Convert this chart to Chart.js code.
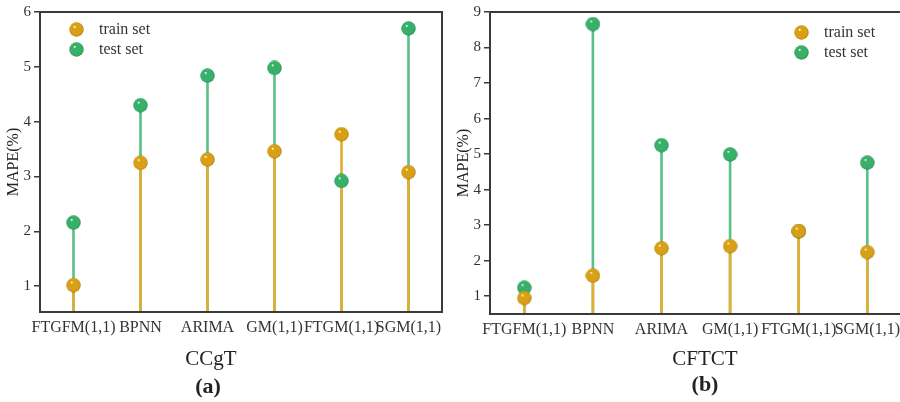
<!DOCTYPE html>
<html>
<head>
<meta charset="utf-8">
<script src="https://cdn.jsdelivr.net/npm/chart.js@4.4.1/dist/chart.umd.min.js"></script>
<style>
  html, body { margin: 0; padding: 0; background: #fff; overflow: hidden; }
  body { width: 900px; height: 402px; position: relative; font-family: "Liberation Serif", serif; color: #333; }
  .panel { position: absolute; top: 0; height: 402px; }
  .lbl { position: absolute; transform: translate(-50%, -50%); white-space: nowrap; color: #222; }
  .legend { position: absolute; font-size: 16px; line-height: 20px; color: #333; }
  .legend div { position: relative; padding-left: 30px; height: 20px; }
  .legend canvas { position: absolute; left: 0; top: 3px; }
</style>
</head>
<body>
<div class="panel" style="left:0;width:450px"><canvas id="chartA" width="450" height="402"></canvas></div>
<div class="panel" style="left:450px;width:460px"><canvas id="chartB" width="460" height="402"></canvas></div>

<div class="legend" style="left:69px;top:19px">
  <div><canvas class="ballTrain" width="15" height="15"></canvas>train set</div>
  <div><canvas class="ballTest" width="15" height="15"></canvas>test set</div>
</div>
<div class="legend" style="left:794px;top:22px">
  <div><canvas class="ballTrain" width="15" height="15"></canvas>train set</div>
  <div><canvas class="ballTest" width="15" height="15"></canvas>test set</div>
</div>

<div class="lbl" style="left:211px;top:358px;font-size:21px">CCgT</div>
<div class="lbl" style="left:208px;top:386px;font-size:22px;font-weight:bold">(a)</div>
<div class="lbl" style="left:705px;top:358px;font-size:21px">CFTCT</div>
<div class="lbl" style="left:705px;top:384px;font-size:22px;font-weight:bold">(b)</div>

<script>
// models on the x axis (same for both panels)
const models = ["FTGFM(1,1)", "BPNN", "ARIMA", "GM(1,1)", "FTGM(1,1)", "SGM(1,1)"];

// (a) CCgT - MAPE in %
const trainA = [1.02, 3.25, 3.31, 3.46, 3.77, 3.08];
const testA = [2.16, 4.30, 4.84, 4.98, 2.92, 5.70];

// (b) CFTCT - MAPE in %
// FTGM(1,1) test point sits behind the train point
const trainB = [0.95, 1.58, 2.35, 2.41, 2.83, 2.24];
const testB = [1.24, 8.66, 5.25, 4.99, 2.83, 4.76];

const yTicksA = [1, 2, 3, 4, 5, 6];
const yTicksB = [1, 2, 3, 4, 5, 6, 7, 8, 9];

const trainColor = "#d9a016";
const trainStem = "#e2ad33";
const testColor = "#38b06a";
const testStem = "#5cc08b";

// little shaded ball for the markers
function makeBall(base, dark, size) {
  const c = document.createElement("canvas");
  c.width = size; c.height = size;
  paintBall(c, base, dark);
  return c;
}
function paintBall(c, base, dark) {
  const ctx = c.getContext("2d");
  const r = c.width / 2;
  const g = ctx.createRadialGradient(r - 2, r - 3, 0.3, r, r, r);
  g.addColorStop(0, "#ffffff");
  g.addColorStop(0.18, base);
  g.addColorStop(0.8, base);
  g.addColorStop(1, dark);
  ctx.fillStyle = g;
  ctx.beginPath();
  ctx.arc(r, r, r - 0.3, 0, Math.PI * 2);
  ctx.fill();
}
const trainBall = makeBall(trainColor, "#a87a08", 15);
const testBall = makeBall(testColor, "#1f8a4b", 15);
document.querySelectorAll(".ballTrain").forEach(c => paintBall(c, trainColor, "#a87a08"));
document.querySelectorAll(".ballTest").forEach(c => paintBall(c, testColor, "#1f8a4b"));

// box around the plot area
const frame = {
  id: "frame",
  afterDraw(chart) {
    const a = chart.chartArea;
    const ctx = chart.ctx;
    ctx.save();
    ctx.strokeStyle = "#3a3a3a";
    ctx.lineWidth = 2;
    ctx.strokeRect(a.left, a.top, a.right - a.left, a.bottom - a.top);
    ctx.restore();
  }
};

function makeChart(id, train, test, yMin, yMax, yTicks, padRight, axisHeight) {
  return new Chart(document.getElementById(id), {
    type: "bar",
    data: {
      labels: models,
      datasets: [
        { type: "bar", data: test, backgroundColor: testStem, barThickness: 2, grouped: false, clip: 0, order: 4 },
        { type: "bar", data: train, backgroundColor: trainStem, barThickness: 2, grouped: false, clip: 0, order: 3 },
        { type: "line", data: test, showLine: false, pointStyle: testBall, pointRadius: 7, clip: false, order: 2 },
        { type: "line", data: train, showLine: false, pointStyle: trainBall, pointRadius: 7, clip: false, order: 1 }
      ]
    },
    options: {
      responsive: false,
      animation: false,
      events: [],
      layout: { padding: { top: 12, right: padRight, left: 0, bottom: 0 } },
      plugins: { legend: { display: false }, tooltip: { enabled: false } },
      scales: {
        x: {
          type: "category",
          offset: true,
          grid: { display: false, drawTicks: false },
          border: { display: true, color: "#3a3a3a", width: 2 },
          ticks: {
            autoSkip: false, maxRotation: 0, minRotation: 0, padding: 6,
            color: "#333", font: { family: "Liberation Serif", size: 16 }
          },
          afterFit: s => { s.height = axisHeight; }
        },
        y: {
          min: yMin,
          max: yMax,
          afterBuildTicks: s => { s.ticks = yTicks.map(v => ({ value: v })); },
          grid: { drawOnChartArea: false, drawTicks: true, tickLength: 6, color: "#3a3a3a", lineWidth: 1.5 },
          border: { display: true, color: "#3a3a3a", width: 2 },
          ticks: { padding: 3, color: "#333", font: { family: "Liberation Serif", size: 15 } },
          title: {
            display: true, text: "MAPE(%)", color: "#222",
            font: { family: "Liberation Serif", size: 16 }, padding: { top: 4, bottom: 0 }
          },
          afterFit: s => { s.width = 40; }
        }
      }
    },
    plugins: [frame]
  });
}

makeChart("chartA", trainA, testA, 0.53, 6, yTicksA, 3, 90);
makeChart("chartB", trainB, testB, 0.5, 9, yTicksB, 8.4, 88);
</script>
</body>
</html>
